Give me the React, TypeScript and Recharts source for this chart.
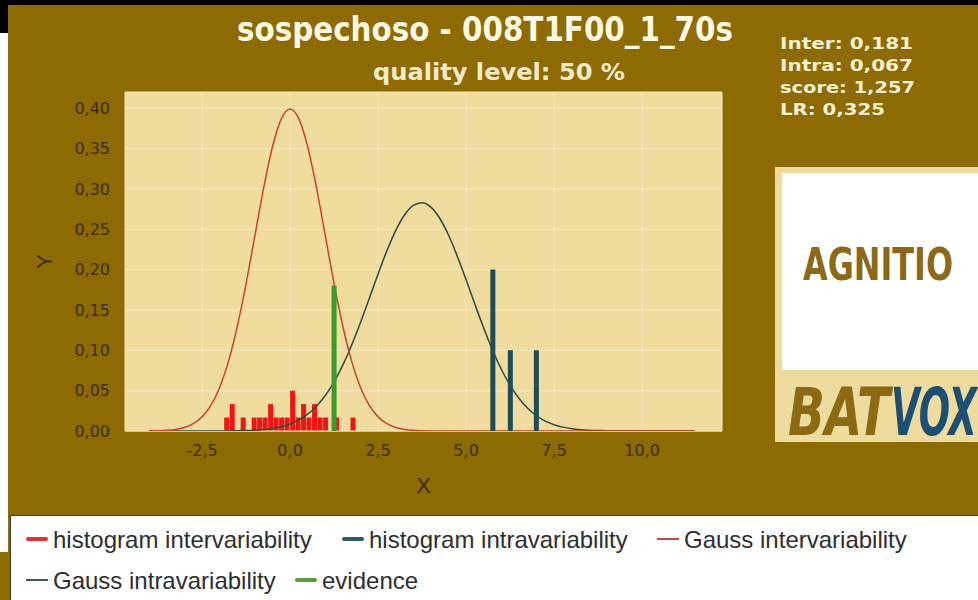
import React from "react"
import { ComposedChart, Bar, Line, XAxis, YAxis, CartesianGrid } from "recharts"

// axis ticks
const xTicks = [-2.5, 0, 2.5, 5, 7.5, 10]
const yTicks = [0, 0.05, 0.1, 0.15, 0.2, 0.25, 0.3, 0.35, 0.4]

// gauss curves, every 0.25
const gaussX = [
  -4, -3.75, -3.5, -3.25, -3, -2.75, -2.5, -2.25, -2, -1.75, -1.5, -1.25, -1, -0.75, -0.5, -0.25,
  0, 0.25, 0.5, 0.75, 1, 1.25, 1.5, 1.75, 2, 2.25, 2.5, 2.75, 3, 3.25, 3.5, 3.75,
  4, 4.25, 4.5, 4.75, 5, 5.25, 5.5, 5.75, 6, 6.25, 6.5, 6.75, 7, 7.25, 7.5, 7.75,
  8, 8.25, 8.5, 8.75, 9, 9.25, 9.5, 9.75, 10, 10.25, 10.5, 10.75, 11, 11.25, 11.5,
]
const gaussInter = [
  0.0001, 0.0004, 0.0009, 0.002, 0.0044, 0.0091, 0.0175, 0.0317, 0.054, 0.0863, 0.1295, 0.1826, 0.242, 0.3011, 0.3521, 0.3867,
  0.3989, 0.3867, 0.3521, 0.3011, 0.242, 0.1826, 0.1295, 0.0863, 0.054, 0.0317, 0.0175, 0.0091, 0.0044, 0.002, 0.0009, 0.0004,
  0.0001, 0, 0, 0, 0, 0, 0, 0, 0, 0, 0, 0, 0, 0, 0, 0,
  0, 0, 0, 0, 0, 0, 0, 0, 0, 0, 0, 0, 0, 0, 0,
]
const gaussIntra = [
  0, 0, 0, 0, 0, 0, 0, 0, 0, 0.0001, 0.0003, 0.0006, 0.001, 0.0019, 0.0032, 0.0054,
  0.0087, 0.0137, 0.0208, 0.0308, 0.044, 0.061, 0.0819, 0.1066, 0.1344, 0.1643, 0.1946, 0.2233, 0.2483, 0.2676, 0.2795, 0.2829,
  0.2774, 0.2636, 0.2428, 0.2166, 0.1874, 0.157, 0.1275, 0.1003, 0.0765, 0.0566, 0.0405, 0.0281, 0.0189, 0.0123, 0.0078, 0.0048,
  0.0028, 0.0016, 0.0009, 0.0005, 0.0002, 0, 0, 0, 0, 0, 0, 0, 0, 0, 0,
]

// histogram intervariability (bin centres and heights)
const histInterX = [
  -1.794, -1.638, -1.326, -1.014, -0.858, -0.702, -0.546, -0.39, -0.234, -0.078,
  0.078, 0.234, 0.39, 0.546, 0.702, 0.858, 1.014, 1.326, 1.794,
]
const histInterY = [
  0.0167, 0.0333, 0.0167, 0.0167, 0.0167, 0.0167, 0.0333, 0.0167, 0.0167, 0.0167,
  0.05, 0.0167, 0.0333, 0.0167, 0.0333, 0.0167, 0.0167, 0.0167, 0.0167,
]

// histogram intravariability
const histIntraX = [5.767, 6.264, 7.003]
const histIntraY = [0.2, 0.1, 0.1]

// evidence
const evidenceX = [1.257]
const evidenceY = [0.18]

const stats = ["Inter: 0,181", "Intra: 0,067", "score: 1,257", "LR: 0,325"]
const statWidths = [133, 133, 135, 105]

const legendRows = [
  [
    { name: "histogram intervariability", color: "#E8303A", thick: true, x: 53 },
    { name: "histogram intravariability", color: "#2C5A66", thick: true, x: 369 },
    { name: "Gauss intervariability", color: "#C24A3C", thick: false, x: 684 },
  ],
  [
    { name: "Gauss intravariability", color: "#3B5656", thick: false, x: 53 },
    { name: "evidence", color: "#5A9E3C", thick: true, x: 322 },
  ],
]

const X_DOMAIN: [number, number] = [-4.69, 12.27]
const Y_DOMAIN: [number, number] = [0, 0.42]
const W = 978
const H = 600
const OLIVE = "#8E6A02"
const TICK_COLOR = "#3A2C05"

const interRows = histInterX.map((x, i) => ({ x, h: histInterY[i] }))
const gaussRows = gaussX.map((x, i) => ({ x, inter: gaussInter[i], intra: gaussIntra[i] }))
const spikeRows = [
  ...evidenceX.map((x, i) => ({ x, ev: evidenceY[i], intra: 0 })),
  ...histIntraX.map((x, i) => ({ x, ev: 0, intra: histIntraY[i] })),
]

const overlayMargin = { top: 92, right: 256, bottom: 169, left: 125 }
const layer: React.CSSProperties = { position: "absolute", left: 0, top: 0 }

const renderYLabel = (props: any) => {
  const vb = props.viewBox
  const cx = vb.x - 21
  const cy = vb.y + vb.height / 2
  return (
    <text
      x={cx}
      y={cy}
      transform={`rotate(-90, ${cx}, ${cy})`}
      textAnchor="middle"
      dominantBaseline="central"
      fontSize={22}
      fontFamily="Liberation Sans, Arial"
      fill={TICK_COLOR}
    >
      Y
    </text>
  )
}

export default function App() {
  return (
    <div style={{ position: "fixed", left: 0, top: 0, width: W, height: H, background: OLIVE, overflow: "hidden" }}>
      <div style={{ position: "absolute", left: 0, top: 0, width: W, height: 5, background: "#000" }} />
      <div style={{ position: "absolute", left: 0, top: 0, width: 8, height: 33, background: "#000" }} />
      <div style={{ position: "absolute", left: 0, top: 33, width: 8, height: 519, background: "#fff" }} />

      <div style={layer}>
        <ComposedChart width={W} height={H} data={interRows} margin={{ top: 92, right: 256, bottom: 139, left: 65 }}>
          <CartesianGrid fill="#F0DC9E" stroke="#F6E8BC" strokeWidth={1} />
          <XAxis
            dataKey="x"
            type="number"
            domain={X_DOMAIN}
            ticks={xTicks}
            allowDataOverflow
            height={30}
            axisLine={{ stroke: "#F3E4B4" }}
            tickLine={false}
            tickSize={6}
            tickMargin={8}
            tickFormatter={(v: number) => v.toFixed(1).replace(".", ",")}
            tick={{ fill: TICK_COLOR, fontSize: 16, fontFamily: "DejaVu Sans" }}
            label={{ value: "X", position: "bottom", offset: 16, fill: TICK_COLOR, fontSize: 22, fontFamily: "Liberation Sans, Arial" }}
          />
          <YAxis
            type="number"
            domain={Y_DOMAIN}
            ticks={yTicks}
            allowDataOverflow
            width={60}
            axisLine={false}
            tickLine={false}
            tickSize={6}
            tickMargin={9}
            tickFormatter={(v: number) => v.toFixed(2).replace(".", ",")}
            tick={{ fill: TICK_COLOR, fontSize: 16, fontFamily: "DejaVu Sans" }}
            label={{ value: "Y", content: renderYLabel }}
          />
          <Bar dataKey="h" fill="#F01414" barSize={5} isAnimationActive={false} />
        </ComposedChart>
      </div>

      <div style={layer}>
        <ComposedChart width={W} height={H} data={gaussRows} margin={overlayMargin}>
          <XAxis dataKey="x" type="number" domain={X_DOMAIN} allowDataOverflow hide />
          <YAxis type="number" domain={Y_DOMAIN} allowDataOverflow hide />
          <Line dataKey="intra" type="monotone" stroke="#2E4A44" strokeWidth={1.5} dot={false} isAnimationActive={false} />
          <Line dataKey="inter" type="monotone" stroke="#C8432E" strokeWidth={1.5} dot={false} isAnimationActive={false} />
        </ComposedChart>
      </div>

      <div style={layer}>
        <ComposedChart width={W} height={H} data={spikeRows} margin={overlayMargin}>
          <XAxis dataKey="x" type="number" domain={X_DOMAIN} allowDataOverflow hide />
          <YAxis type="number" domain={Y_DOMAIN} allowDataOverflow hide />
          <Bar dataKey="ev" stackId="s" fill="#3F9A2C" barSize={5} isAnimationActive={false} />
          <Bar dataKey="intra" stackId="s" fill="#1E4C58" barSize={5} isAnimationActive={false} />
        </ComposedChart>
      </div>

      <svg width={W} height={H} style={{ ...layer, pointerEvents: "none" }}>
        <text
          x={485}
          y={41}
          textAnchor="middle"
          fontFamily="DejaVu Sans Condensed, DejaVu Sans"
          fontWeight="bold"
          fontSize={33}
          fill="#FFF8E2"
          textLength={496}
          lengthAdjust="spacingAndGlyphs"
        >
          sospechoso - 008T1F00_1_70s
        </text>
        <text
          x={499}
          y={80}
          textAnchor="middle"
          fontFamily="DejaVu Sans Condensed, DejaVu Sans"
          fontWeight="bold"
          fontSize={23}
          fill="#F6ECCB"
          textLength={252}
          lengthAdjust="spacingAndGlyphs"
        >
          quality level: 50 %
        </text>
        {stats.map((s, i) => (
          <text
            key={s}
            x={780}
            y={49 + i * 22}
            fontFamily="DejaVu Sans"
            fontWeight="bold"
            fontSize={16}
            fill="#F7F0D2"
            textLength={statWidths[i]}
            lengthAdjust="spacingAndGlyphs"
          >
            {s}
          </text>
        ))}
        <rect x={775} y={167} width={210} height={275} fill="#EEDC9F" />
        <rect x={782} y={173} width={200} height={197} fill="#FFFFFF" />
        <text
          x={803}
          y={280}
          fontFamily="DejaVu Sans Condensed, DejaVu Sans"
          fontWeight="bold"
          fontSize={45}
          fill="#8A6A18"
          textLength={150}
          lengthAdjust="spacingAndGlyphs"
        >
          AGNITIO
        </text>
        <text
          x={788}
          y={435}
          fontFamily="DejaVu Sans Condensed, DejaVu Sans"
          fontWeight="bold"
          fontStyle="italic"
          fontSize={66}
          fill="#8D6A12"
          textLength={102}
          lengthAdjust="spacingAndGlyphs"
        >
          BAT
        </text>
        <text
          x={891}
          y={435}
          fontFamily="DejaVu Sans Condensed, DejaVu Sans"
          fontWeight="bold"
          fontStyle="italic"
          fontSize={66}
          fill="#1D4E73"
          textLength={86}
          lengthAdjust="spacingAndGlyphs"
        >
          VOX
        </text>
      </svg>

      <div
        style={{
          position: "absolute",
          left: 10,
          top: 515,
          width: 968,
          height: 85,
          background: "#FFFFFF",
          borderTop: "1px solid #3A3A3A",
          borderLeft: "1px solid #3A3A3A",
        }}
      />
      <svg width={W} height={H} style={{ ...layer, pointerEvents: "none" }}>
        {legendRows.map((row, r) =>
          row.map((item) => {
            const cy = 539 + r * 41
            return (
              <g key={item.name}>
                <rect
                  x={item.x - 27}
                  y={cy - (item.thick ? 2 : 1)}
                  width={22}
                  height={item.thick ? 4 : 2}
                  rx={item.thick ? 2 : 0}
                  fill={item.color}
                />
                <text
                  x={item.x}
                  y={cy}
                  dominantBaseline="central"
                  fontFamily="Liberation Sans, Arial, sans-serif"
                  fontSize={24}
                  fill="#2E2E2E"
                >
                  {item.name}
                </text>
              </g>
            )
          })
        )}
      </svg>
    </div>
  )
}
